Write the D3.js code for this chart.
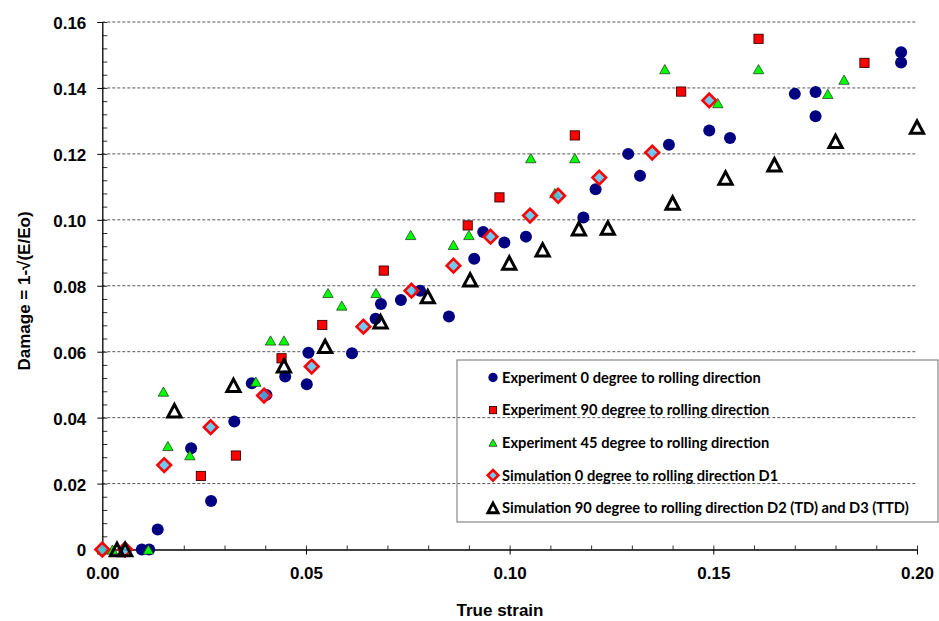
<!DOCTYPE html>
<html>
<head>
<meta charset="utf-8">
<script src="https://cdn.jsdelivr.net/npm/d3@7"></script>
<style>
  body { margin: 0; background: #fff; }
  svg { display: block; }
</style>
</head>
<body>
<svg id="chart" width="939" height="621"></svg>
<script>
// ---- Data ----
const xTickValues = [0, 0.05, 0.10, 0.15, 0.20];
const yTickValues = [0, 0.02, 0.04, 0.06, 0.08, 0.10, 0.12, 0.14, 0.16];

const exp0 = [
  [0.0097,0],[0.0115,0],[0.0136,0.0061],[0.0218,0.0307],[0.0267,0.0147],[0.0324,0.0388],
  [0.0367,0.0504],[0.0403,0.0469],[0.0449,0.0525],[0.0502,0.0501],[0.0506,0.0597],
  [0.0613,0.0595],[0.0671,0.0700],[0.0684,0.0745],[0.0733,0.0757],[0.0780,0.0785],
  [0.0851,0.0707],[0.0913,0.0882],[0.0935,0.0963],[0.0987,0.0931],[0.1040,0.0949],
  [0.1181,0.1007],[0.1211,0.1093],[0.1291,0.1200],[0.1320,0.1134],[0.1391,0.1228],
  [0.1490,0.1271],[0.1541,0.1248],[0.1700,0.1382],[0.1751,0.1388],[0.1751,0.1314],
  [0.1961,0.1508],[0.1961,0.1477]
];
const exp90 = [
  [0.0242,0.0223],[0.0328,0.0285],[0.0440,0.0580],[0.0540,0.0681],[0.0691,0.0846],
  [0.0897,0.0983],[0.0975,0.1068],[0.1160,0.1256],[0.1421,0.1389],[0.1611,0.1549],
  [0.1871,0.1476]
];
const exp45 = [
  [0,0],[0.0025,0],[0.0113,0],[0.0150,0.0479],[0.0161,0.0314],[0.0215,0.0286],
  [0.0377,0.0509],[0.0413,0.0634],[0.0446,0.0634],[0.0554,0.0778],[0.0588,0.0740],
  [0.0672,0.0778],[0.0757,0.0954],[0.0862,0.0924],[0.0900,0.0954],[0.1052,0.1187],
  [0.1111,0.1081],[0.1160,0.1187],[0.1381,0.1457],[0.1511,0.1354],[0.1611,0.1457],
  [0.1781,0.1382],[0.1821,0.1425]
];
const simD1 = [
  [0,0],[0.0056,0],[0.0152,0.0256],[0.0266,0.0371],[0.0397,0.0467],[0.0514,0.0555],
  [0.0641,0.0676],[0.0759,0.0785],[0.0862,0.0861],[0.0953,0.0949],[0.1050,0.1013],
  [0.1119,0.1073],[0.1220,0.1128],[0.1350,0.1204],[0.1490,0.1362]
];
const simD2D3 = [
  [0.0036,0],[0.0056,0],[0.0177,0.0421],[0.0322,0.0498],[0.0446,0.0557],[0.0547,0.0616],
  [0.0683,0.0691],[0.0799,0.0767],[0.0903,0.0818],[0.0999,0.0869],[0.1081,0.0909],
  [0.1170,0.0973],[0.1241,0.0975],[0.1400,0.1051],[0.1530,0.1127],[0.1650,0.1167],
  [0.1800,0.1238],[0.2000,0.1281]
];
const legendLabels = [
  "Experiment 0 degree to rolling direction",
  "Experiment 90 degree to rolling direction",
  "Experiment 45 degree to rolling direction",
  "Simulation 0 degree to rolling direction D1",
  "Simulation 90 degree to rolling direction D2 (TD) and D3 (TTD)"
];
const xTitle = "True strain";
const yTitle = "Damage = 1-\u221A(E/Eo)";

// ---- Layout ----
const svg = d3.select("#chart");
const pL = 102.3, pR = 917, pT = 22, pB = 549.5;
const x = d3.scaleLinear().domain([0, 0.2]).range([pL, pR]);
const y = d3.scaleLinear().domain([0, 0.16]).range([pB, pT]);
const axisFont = "'Liberation Sans', Arial, sans-serif";

// gridlines
svg.append("g").selectAll("line")
  .data(yTickValues.filter(v => v > 0))
  .join("line")
  .attr("x1", pL).attr("x2", pR)
  .attr("y1", d => y(d)).attr("y2", d => y(d))
  .attr("stroke", "#555").attr("stroke-width", 1)
  .attr("stroke-dasharray", "3,2");

// minor ticks
const xMinor = d3.range(0, 0.2001, 0.01);
const yMinor = d3.range(0, 0.1601, 0.004);
svg.append("g").attr("transform", `translate(0,${pB})`)
  .call(d3.axisTop(x).tickValues(xMinor).tickSize(4).tickSizeOuter(0).tickFormat(""))
  .call(g => g.select(".domain").remove())
  .call(g => g.selectAll("line").attr("stroke", "#333"));
svg.append("g").attr("transform", `translate(${pL},0)`)
  .call(d3.axisRight(y).tickValues(yMinor).tickSize(5).tickSizeOuter(0).tickFormat(""))
  .call(g => g.select(".domain").remove())
  .call(g => g.selectAll("line").attr("stroke", "#333"));

// major axes
const xAxis = svg.append("g").attr("transform", `translate(0,${pB})`)
  .call(d3.axisBottom(x).tickValues(xTickValues).tickSize(5).tickSizeOuter(0)
    .tickPadding(12).tickFormat(d3.format(".2f")));
const yAxis = svg.append("g").attr("transform", `translate(${pL},0)`)
  .call(d3.axisLeft(y).tickValues(yTickValues).tickSize(5).tickSizeOuter(0)
    .tickPadding(11).tickFormat(d => d === 0 ? "0" : d3.format(".2f")(d)));
[xAxis, yAxis].forEach(g => {
  g.selectAll("text").attr("font-family", axisFont).attr("font-weight", "bold")
    .attr("font-size", 17).attr("fill", "#000");
  g.select(".domain").attr("stroke", "#000").attr("stroke-width", 1.3);
  g.selectAll(".tick line").attr("stroke", "#000");
});
yAxis.selectAll("text").attr("dy", "0.38em");

// axis titles
svg.append("text").attr("x", 500).attr("y", 616)
  .attr("text-anchor", "middle").attr("font-family", axisFont)
  .attr("font-weight", "bold").attr("font-size", 17).text(xTitle);
svg.append("text").attr("transform", "translate(30,291) rotate(-90)")
  .attr("text-anchor", "middle").attr("font-family", axisFont)
  .attr("font-weight", "bold").attr("font-size", 17).text(yTitle);

// ---- marker shapes ----
const tri = (w, h) => `M0,${-h}L${w},${h}L${-w},${h}Z`;
const diamond = r => `M0,${-r}L${r},0L0,${r}L${-r},0Z`;
const styles = [
  { draw: (g, s) => g.append("circle").attr("r", 6 * s).attr("fill", "#000080") },
  { draw: (g, s) => g.append("rect").attr("x", -4.6 * s).attr("y", -4.6 * s)
      .attr("width", 9.2 * s).attr("height", 9.2 * s)
      .attr("fill", "#ff0000").attr("stroke", "#3a0000").attr("stroke-width", 0.9) },
  { draw: (g, s) => g.append("path").attr("d", tri(5.2 * s, 4.6 * s))
      .attr("fill", "#00ff00").attr("stroke", "#224422").attr("stroke-width", 0.8) },
  { draw: (g, s) => g.append("path").attr("d", diamond(6.8 * s))
      .attr("fill", "rgba(80,190,240,0.82)").attr("stroke", "#ff0000").attr("stroke-width", 2.6 * Math.min(1, s + 0.2)) },
  { draw: (g, s) => g.append("path").attr("d", tri(6.6 * s, 6.2 * s))
      .attr("fill", "none").attr("stroke", "#000").attr("stroke-width", 3 * Math.min(1, s + 0.15)).attr("stroke-linejoin", "miter") }
];
const seriesData = [exp0, exp90, exp45, simD1, simD2D3];

seriesData.forEach((data, i) => {
  const g = svg.append("g");
  data.forEach(d => {
    const m = g.append("g").attr("transform", `translate(${x(d[0])},${y(d[1])})`);
    styles[i].draw(m, 1);
  });
});

// ---- legend ----
const lg = svg.append("g");
lg.append("rect").attr("x", 457).attr("y", 360).attr("width", 481).attr("height", 162)
  .attr("fill", "none").attr("stroke", "#888").attr("stroke-width", 1.2);
const legendFont = "Lato, 'Open Sans', sans-serif";
legendLabels.forEach((lab, i) => {
  const yy = 377.5 + i * 32.6;
  const m = lg.append("g").attr("transform", `translate(493,${yy})`);
  styles[i].draw(m, 0.78);
  lg.append("text").attr("class", "lt").attr("x", 502).attr("y", yy).attr("dy", "0.36em")
    .attr("font-family", legendFont).attr("font-weight", "bold").attr("font-size", 15)
    .attr("fill", "#000").text(lab);
});
// fit legend font to the reference width of the longest label (~407px)
const longest = lg.selectAll("text.lt").nodes()[4];
const w = longest.getComputedTextLength();
const fs = 15 * 407 / w;
lg.selectAll("text.lt").attr("font-size", fs);
</script>
</body>
</html>
